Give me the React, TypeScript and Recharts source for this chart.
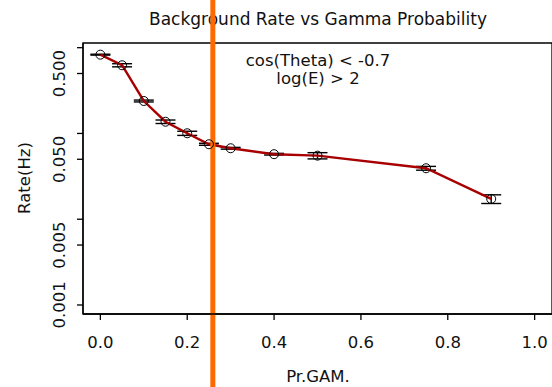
import React from 'react';
import { LineChart, Line, XAxis, YAxis, ErrorBar, ReferenceLine, ReferenceArea } from 'recharts';

// values
const prGam = [0, 0.05, 0.1, 0.15, 0.2, 0.25, 0.3, 0.4, 0.5, 0.75, 0.9];
const rate = [0.829, 0.624, 0.239, 0.137, 0.1005, 0.0748, 0.0672, 0.0573, 0.0551, 0.0393, 0.01725];
const rateErr = [0.01, 0.026, 0.006, 0.0064, 0.0056, 0.002, 0.0016, 0.0013, 0.0046, 0.002, 0.002];

const xTicks = [0, 0.2, 0.4, 0.6, 0.8, 1.0];
const yTicks = [1, 0.5, 0.1, 0.05, 0.01, 0.005, 0.001];
const yTickLabels: Record<string, string> = {
  '0.5': '0.500',
  '0.05': '0.050',
  '0.005': '0.005',
  '0.001': '0.001',
};
const cutValue = 0.259;

const W = 552;
const H = 387;
const FONT = '"DejaVu Sans", Arial, sans-serif';
const INK = '#111';

const data = prGam.map((x, i) => ({ x, rate: rate[i], err: rateErr[i] }));

// R draws the log axis labels rotated along the axis
const YTick = (props: any) => {
  const { x, y, payload } = props;
  const label = yTickLabels[String(payload.value)];
  if (!label) return null;
  return (
    <text
      x={x}
      y={y}
      transform={`rotate(-90 ${x} ${y})`}
      textAnchor="middle"
      fontSize={16.5}
      fontFamily={FONT}
      fill={INK}
    >
      {label}
    </text>
  );
};

export default function App() {
  return (
    <div style={{ position: 'absolute', left: 0, top: 0, width: W, height: H, background: '#fff' }}>
      <LineChart width={W} height={H} data={data} margin={{ top: 43, right: 0, bottom: 0, left: 0 }}>
        <XAxis
          dataKey="x"
          type="number"
          domain={[-0.04, 1.04]}
          ticks={xTicks}
          allowDataOverflow
          height={73}
          tickSize={6}
          tickMargin={16}
          tickFormatter={(v: number) => v.toFixed(1)}
          tick={{ fill: INK, fontSize: 16.5, fontFamily: FONT }}
          stroke="#000"
          strokeWidth={1.3}
        />
        <YAxis
          type="number"
          scale="log"
          domain={[0.000785, 1.134]}
          ticks={yTicks}
          allowDataOverflow
          width={83}
          tickSize={6}
          tickMargin={12}
          tick={<YTick />}
          stroke="#000"
          strokeWidth={1.3}
        />
        <ReferenceArea
          x1={-0.04}
          x2={1.04}
          y1={0.000785}
          y2={1.134}
          fill="none"
          fillOpacity={0}
          stroke="#000"
          strokeWidth={1.3}
          ifOverflow="visible"
        />
        <Line
          dataKey="rate"
          type="linear"
          stroke="#a80000"
          strokeWidth={2.4}
          dot={{ r: 4.5, fill: 'none', stroke: '#000', strokeWidth: 1 }}
          isAnimationActive={false}
        >
          <ErrorBar dataKey="err" width={10} stroke="#000" strokeWidth={1.4} direction="y" />
        </Line>
        <text x={318} y={24.5} textAnchor="middle" fontSize={17} fontFamily={FONT} fill={INK}>
          Background Rate vs Gamma Probability
        </text>
        <text x={318} y={66} textAnchor="middle" fontSize={16.5} fontFamily={FONT} fill={INK}>
          {'cos(Theta) < -0.7'}
        </text>
        <text x={318} y={84} textAnchor="middle" fontSize={16.5} fontFamily={FONT} fill={INK}>
          {'log(E) > 2'}
        </text>
        <text x={318} y={382} textAnchor="middle" fontSize={16.5} fontFamily={FONT} fill={INK}>
          Pr.GAM.
        </text>
        <text
          x={30}
          y={178}
          transform="rotate(-90 30 178)"
          textAnchor="middle"
          fontSize={16.5}
          fontFamily={FONT}
          fill={INK}
        >
          Rate(Hz)
        </text>
        <ReferenceLine
          x={cutValue}
          ifOverflow="visible"
          shape={(p: any) => (
            <line x1={p.x1} y1={0} x2={p.x2} y2={H} stroke="#ff6a00" strokeWidth={5} />
          )}
        />
      </LineChart>
    </div>
  );
}
